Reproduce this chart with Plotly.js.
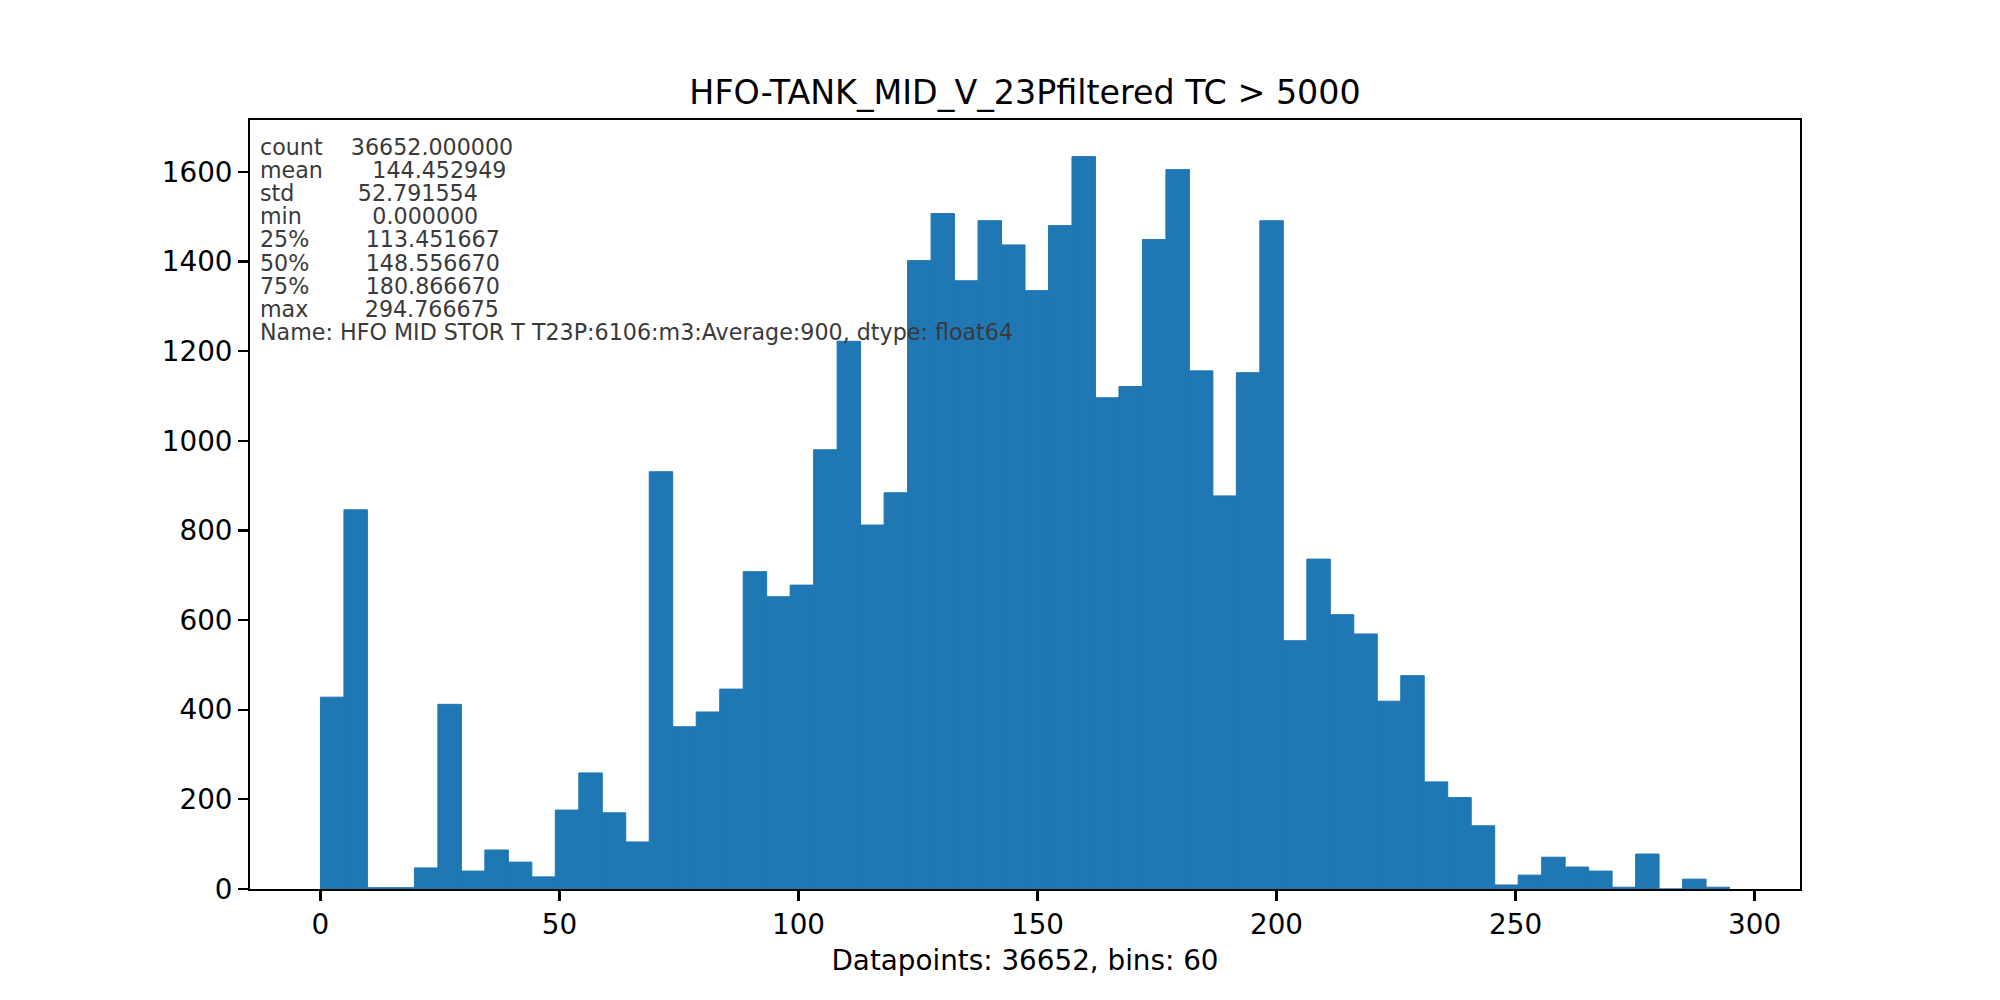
<!DOCTYPE html>
<html>
<head>
<meta charset="utf-8">
<script src="https://cdn.plot.ly/plotly-3.0.1.min.js"></script>
<style>
  html, body { margin: 0; padding: 0; background: #ffffff; }
  #chart { width: 2000px; height: 1000px; }
</style>
</head>
<body>
<div id="chart"></div>
<script>
// ---- data ----
const binCounts = [
  428, 846, 3, 3, 47, 412, 40, 87, 60, 27,
  176, 259, 170, 105, 931, 362, 395, 446, 708, 652,
  678, 980, 1222, 812, 884, 1402, 1507, 1357, 1491, 1437,
  1335, 1480, 1634, 1096, 1121, 1449, 1605, 1156, 877, 1152,
  1491, 554, 736, 612, 569, 419, 476, 239, 204, 141,
  9, 31, 71, 49, 40, 4, 78, 0, 22, 4
];
const dataMin = 0.0;
const dataMax = 294.766675;
const nBins = 60;

const xTickValues = [0, 50, 100, 150, 200, 250, 300];
const yTickValues = [0, 200, 400, 600, 800, 1000, 1200, 1400, 1600];

const statLabels = ['count', 'mean', 'std', 'min', '25%', '50%', '75%', 'max'];
const statValues = ['36652.000000', '144.452949', '52.791554', '0.000000',
                    '113.451667', '148.556670', '180.866670', '294.766675'];
const seriesNameLine = 'Name: HFO MID STOR T T23P:6106:m3:Average:900, dtype: float64';

const chartTitle = 'HFO-TANK_MID_V_23Pfiltered TC > 5000';
const xAxisTitle = 'Datapoints: 36652, bins: 60';

// ---- derived ----
const binWidth = (dataMax - dataMin) / nBins;
const binCenters = binCounts.map((_, i) => dataMin + (i + 0.5) * binWidth);
const xPad = 0.05 * (dataMax - dataMin);
const yMax = 1.05 * Math.max(...binCounts);

const FONT = 'DejaVu Sans, Verdana, sans-serif';
const W = 2000, H = 1000;
const M = { l: 250, r: 200, t: 120, b: 111 };
const plotH = H - M.t - M.b;
const plotW = W - M.l - M.r;

const nb = s => s.replace(/ /g, '\u00a0');
const statLines = statLabels.map((lab, i) =>
  nb(lab.padEnd(5) + '    ' + statValues[i].padStart(12)));
statLines.push(nb(seriesNameLine));

const annotations = statLines.map((line, i) => {
  const ypix = 147 + i * 23.1;
  return {
    text: line,
    xref: 'paper', yref: 'paper',
    x: (259 - M.l) / plotW,
    y: 1 - (ypix - M.t) / plotH,
    xanchor: 'left', yanchor: 'middle',
    showarrow: false,
    borderpad: 0,
    font: { family: FONT, size: 22.2, color: '#3a3a3a' }
  };
});

const trace = {
  type: 'bar',
  x: binCenters,
  y: binCounts,
  width: binCounts.map(() => binWidth),
  marker: { color: '#1f77b4', line: { color: '#1f77b4', width: 1 } },
  hoverinfo: 'skip'
};

const axisCommon = {
  showgrid: false,
  zeroline: false,
  showline: true,
  mirror: true,
  linecolor: '#000000',
  linewidth: 2.2,
  ticks: 'outside',
  ticklen: 9.7,
  tickwidth: 2.2,
  tickcolor: '#000000',
  tickfont: { family: FONT, size: 27.8, color: '#000000' },
  tickmode: 'array'
};

const layout = {
  width: W,
  height: H,
  margin: M,
  paper_bgcolor: '#ffffff',
  plot_bgcolor: '#ffffff',
  showlegend: false,
  bargap: 0,
  title: {
    text: chartTitle,
    font: { family: FONT, size: 33.3, color: '#000000' },
    xref: 'paper', x: 0.5, xanchor: 'center',
    yref: 'container', y: 1 - 92 / H, yanchor: 'middle'
  },
  xaxis: Object.assign({}, axisCommon, {
    range: [dataMin - xPad, dataMax + xPad],
    tickvals: xTickValues,
    ticktext: xTickValues.map(String),
    title: { text: xAxisTitle, font: { family: FONT, size: 27.8, color: '#000000' }, standoff: 10 }
  }),
  yaxis: Object.assign({}, axisCommon, {
    range: [0, yMax],
    tickvals: yTickValues,
    ticktext: yTickValues.map(String)
  }),
  annotations: annotations
};

Plotly.newPlot('chart', [trace], layout, { staticPlot: true, displayModeBar: false });
</script>
</body>
</html>
